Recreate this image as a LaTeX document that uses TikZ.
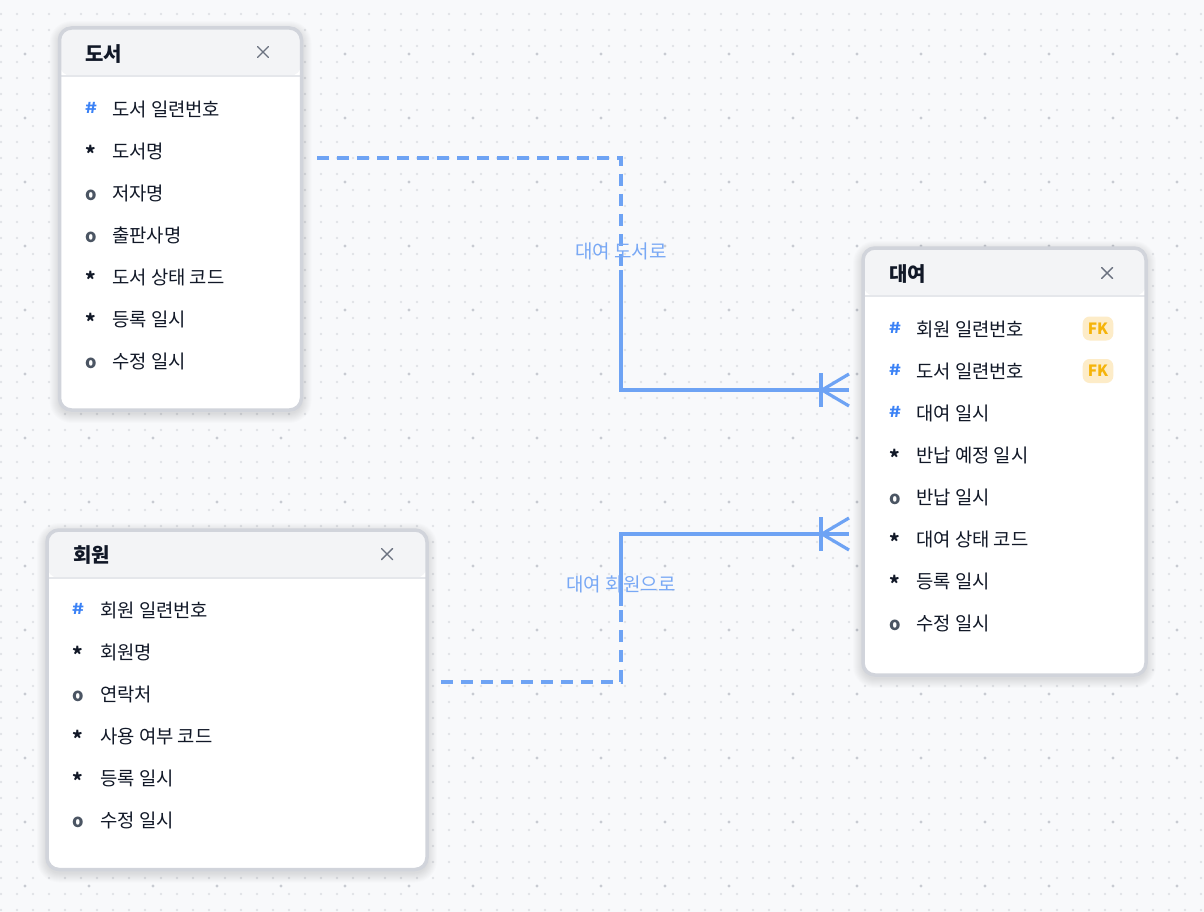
\documentclass[tikz,border=0pt]{standalone}
\usepackage{fontspec}
\setmainfont{Noto Sans CJK KR}
\definecolor{bgc}{RGB}{248,249,251}
\definecolor{dotc}{RGB}{224,226,231}
\definecolor{dotd}{RGB}{200,203,210}
\definecolor{borderc}{RGB}{209,212,219}
\definecolor{headbg}{RGB}{243,244,246}
\definecolor{sepc}{RGB}{229,231,235}
\definecolor{txtc}{RGB}{17,24,39}
\definecolor{xc}{RGB}{107,114,128}
\definecolor{pkc}{RGB}{59,130,246}
\definecolor{optc}{RGB}{75,85,99}
\definecolor{relc}{RGB}{110,163,244}
\definecolor{lblc}{RGB}{120,168,245}
\definecolor{fkbg}{RGB}{253,236,200}
\definecolor{fkc}{RGB}{245,180,10}
\pgfdeclarelayer{back}
\pgfdeclarelayer{shade}
\pgfsetlayers{back,shade,main}
\newcommand\icpk{\bfseries\raisebox{2.5pt}{\scalebox{1.35}[1]{\#}}}
\newcommand\icreq{\bfseries\raisebox{-3.2pt}{*}}
\newcommand\icopt{\bfseries o}
\newcommand\closex[1]{\draw[xc, line width=1.4pt, line cap=round] ([shift={(-5.5,5.5)}]#1) -- ([shift={(5.5,-5.5)}]#1) ([shift={(-5.5,-5.5)}]#1) -- ([shift={(5.5,5.5)}]#1);}
\newcommand\crowfoot[1]{%
  \draw[rel] ([shift={(-28,17)}]#1) -- ([shift={(-28,-17)}]#1);
  \draw[rel, line join=miter] ([shift={(0,16)}]#1) -- ([shift={(-27,0)}]#1) -- ([shift={(0,-16)}]#1);}
\newcommand\softshadow[1]{%
  \begin{pgfonlayer}{shade}
  \foreach \r in {1,...,10}{
    \fill[black, opacity=0.011, rounded corners=12+\r] ([shift={(-\r,\r-3)}]#1.north west) rectangle ([shift={(\r,-\r-3)}]#1.south east);
  }
  \end{pgfonlayer}}
\begin{document}
\begin{tikzpicture}[x=1pt,y=1pt,
  entity/.style={draw=borderc, line width=3.5pt, fill=white, rounded corners=12pt,
    inner sep=0pt, outer sep=0pt, anchor=north west,
    path picture={
      \fill[headbg] (path picture bounding box.north west) rectangle ([yshift=-48pt]path picture bounding box.north east);
      \draw[sepc, line width=2.2pt] ([yshift=-48pt]path picture bounding box.north west) -- ([yshift=-48pt]path picture bounding box.north east);
    }},
  title/.style={anchor=base west, inner sep=0pt, text=txtc, font=\fontsize{20}{22}\selectfont\bfseries},
  attr/.style={anchor=base west, inner sep=0pt, text=txtc, font=\fontsize{18.8}{21}\selectfont},
  icon/.style={anchor=base, inner sep=0pt},
  icpk/.style={icon, text=pkc, font=\fontsize{15}{18}\selectfont},
  icreq/.style={icon, text=txtc, font=\fontsize{20}{20}\selectfont},
  icopt/.style={icon, text=optc, font=\fontsize{18}{18}\selectfont},
  fk/.style={fill=fkbg, rounded corners=7pt, minimum width=30.6pt, minimum height=24pt, inner sep=0pt,
    text=fkc, font=\fontsize{15.5}{16}\selectfont\bfseries},
  rel/.style={draw=relc, line width=3.2pt},
  reldash/.style={rel, dash pattern=on 12pt off 8pt},
  lbl/.style={inner sep=0pt, anchor=base, text=lblc, font=\fontsize{19}{21}\selectfont}]
\useasboundingbox (0,0) rectangle (1204,-912);
\begin{pgfonlayer}{back}
\fill[bgc] (0,0) rectangle (1204,-912);
\foreach \i in {0,...,75} { \fill[dotc] \foreach \j in {0,...,56} { (1+16*\i,-14-16*\j) circle (1.4) }; }
\foreach \i in {0,...,18} { \fill[dotd] \foreach \j in {0,...,13} { (25+64*\i,-54-64*\j) circle (1.6) }; }
\end{pgfonlayer}

% ---------- connectors ----------
\coordinate (b1) at (317,-158);
\coordinate (s1) at (621,-270);
\coordinate (r1) at (849,-390);
\draw[reldash] (b1) -| (s1);
\draw[rel] (s1) |- (r1);
\crowfoot{r1}
\coordinate (b2) at (441,-682);
\coordinate (s2) at (621,-606);
\coordinate (r2) at (849,-534);
\draw[reldash] (b2) -| (s2);
\draw[rel] (s2) |- (r2);
\crowfoot{r2}
\node[lbl] (l1) at (621,-258.2) {대여 도서로};
\node[lbl] (l2) at (621,-591.2) {대여 회원으로};

% ---------- 도서 ----------
\node[entity, minimum width=242pt, minimum height=382pt] (book) at (59.5,-28) {};
\softshadow{book}
\node[title] (book-t) at (85,-61.6) {도서};
\closex{263,-52}
\foreach \ty/\tx [count=\k] in {pk/도서 일련번호, req/도서명, opt/저자명, opt/출판사명, req/도서 상태 코드, req/등록 일시, opt/수정 일시}{
  \node[ic\ty] (book-i\k) at (91,{-116.1-42*(\k-1)}) {\csname ic\ty\endcsname};
  \node[attr] (book-a\k) at (112,{-116.1-42*(\k-1)}) {\tx};
}

% ---------- 대여 ----------
\node[entity, minimum width=283pt, minimum height=427pt] (rent) at (863,-248) {};
\softshadow{rent}
\node[title] (rent-t) at (889,-281.6) {대여};
\closex{1107,-273}
\foreach \ty/\tx [count=\k] in {pk/회원 일련번호, pk/도서 일련번호, pk/대여 일시, req/반납 예정 일시, opt/반납 일시, req/대여 상태 코드, req/등록 일시, opt/수정 일시}{
  \node[ic\ty] (rent-i\k) at (895,{-336.1-42*(\k-1)}) {\csname ic\ty\endcsname};
  \node[attr] (rent-a\k) at (916,{-336.1-42*(\k-1)}) {\tx};
}
\node[fk] (rent-fk1) at (1098,-328.5) {FK};
\node[fk] (rent-fk2) at (1098,-371) {FK};

% ---------- 회원 ----------
\node[entity, minimum width=380pt, minimum height=339.5pt] (member) at (47,-530) {};
\softshadow{member}
\node[title] (member-t) at (73,-562.6) {회원};
\closex{387,-554}
\foreach \ty/\tx [count=\k] in {pk/회원 일련번호, req/회원명, opt/연락처, req/사용 여부 코드, req/등록 일시, opt/수정 일시}{
  \node[ic\ty] (member-i\k) at (78,{-617.1-42*(\k-1)}) {\csname ic\ty\endcsname};
  \node[attr] (member-a\k) at (100,{-617.1-42*(\k-1)}) {\tx};
}
\end{tikzpicture}
\end{document}
